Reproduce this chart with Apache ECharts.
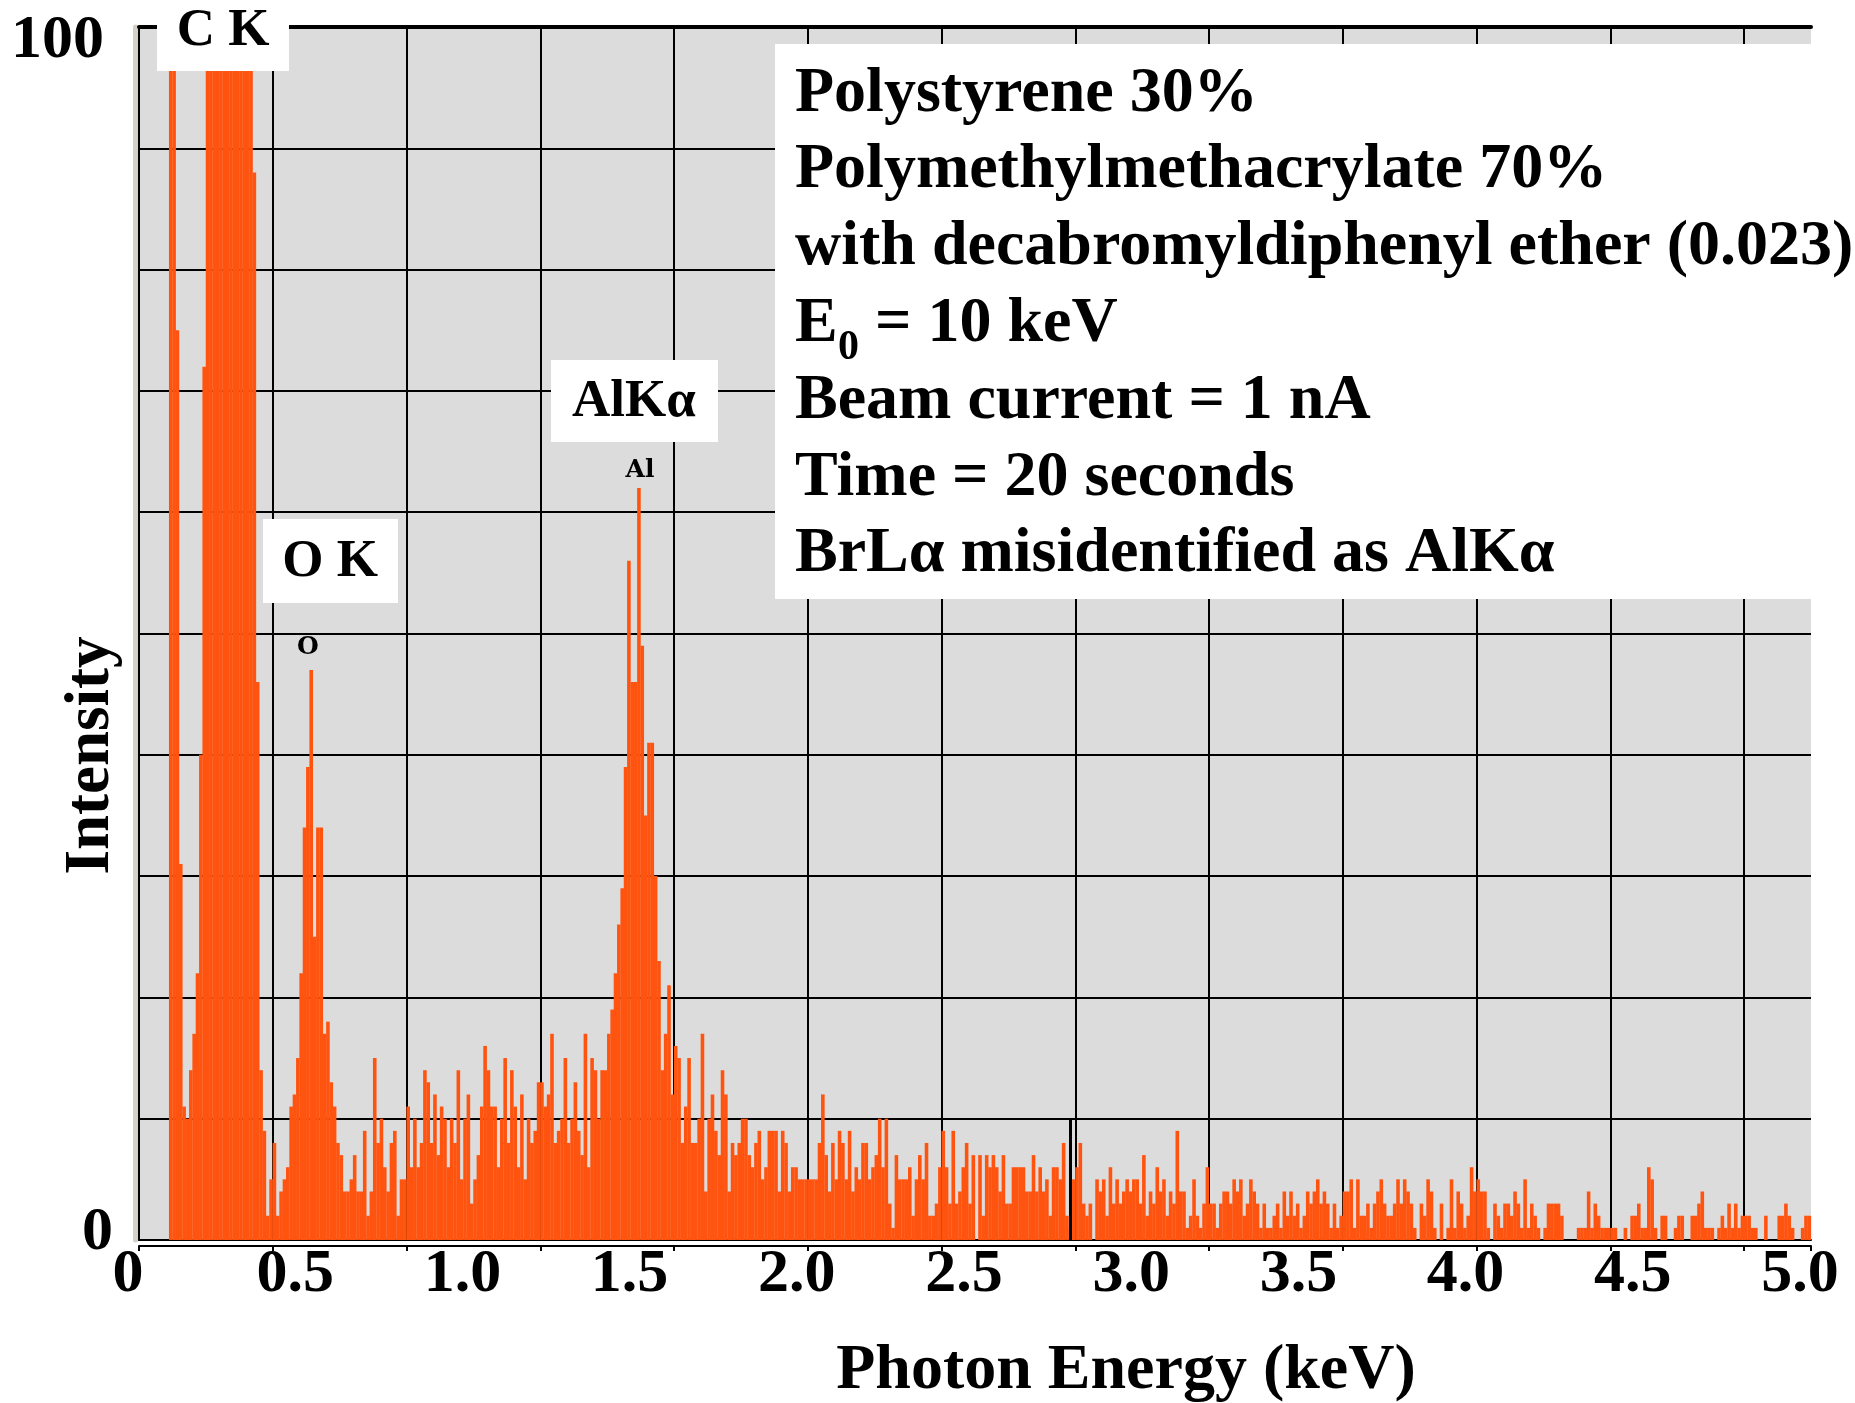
<!DOCTYPE html>
<html>
<head>
<meta charset="utf-8">
<script src="https://cdn.jsdelivr.net/npm/echarts@6.0.0/dist/echarts.min.js"></script>
<style>
html,body{margin:0;padding:0;background:#ffffff;}
#chart{width:1855px;height:1403px;}
</style>
</head>
<body>
<div id="chart"></div>
<script>
// ---------- DATA ----------
// EDS spectrum: counts per 10 eV channel, channel 0 starts at 0 keV
const channelWidthKeV = 0.01;
const counts = [
  0,0,0,0,0,0,0,0,0,140,            // 0.00-0.09
  115,75,31,11,10,14,17,22,40,72,   // 0.10
  110,150,200,260,310,350,370,360,330,290, // 0.20 (C K, clipped)
  240,190,150,115,88,46,14,9,2,5,   // 0.30
  8,2,4,5,6,11,12,15,22,34,         // 0.40
  39,47,25,34,34,17,18,13,11,8,     // 0.50 (O K)
  7,4,4,5,7,4,4,9,2,4,              // 0.60
  15,8,10,6,4,8,9,2,5,5,            // 0.70
  11,6,10,6,8,14,13,8,12,7,         // 0.80
  11,10,6,10,8,14,5,10,12,3,        // 0.90
  5,7,11,16,14,11,11,6,10,15,       // 1.00
  8,14,11,6,12,5,10,8,9,13,         // 1.10
  13,11,12,17,8,9,10,15,8,10,       // 1.20
  13,9,7,17,6,15,14,10,14,14,       // 1.30
  17,19,22,26,29,39,56,46,46,62,    // 1.40 (Al / Br L)
  49,35,41,41,30,23,14,17,21,12,    // 1.50
  16,15,8,11,15,8,8,10,17,4,        // 1.60
  10,12,9,7,14,12,4,8,7,8,          // 1.70
  10,10,7,6,8,9,5,6,9,9,            // 1.80
  9,4,9,8,4,6,6,5,5,5,              // 1.90
  5,5,5,8,12,7,4,8,5,9,             // 2.00
  8,5,9,4,6,5,8,8,5,6,              // 2.10
  7,10,6,10,3,1,7,5,5,5,            // 2.20
  6,2,5,7,5,8,2,2,3,6,              // 2.30
  9,6,3,9,3,4,6,8,3,7,              // 2.40
  0,7,2,7,6,7,6,4,7,3,              // 2.50
  3,6,6,6,6,4,4,7,4,6,              // 2.60
  4,5,2,6,6,5,8,2,1,5,              // 2.70
  6,8,3,2,3,0,5,4,5,2,              // 2.80
  6,3,5,3,4,5,4,5,5,3,              // 2.90
  7,2,4,3,6,4,5,2,4,3,              // 3.00
  9,4,4,1,2,5,2,1,3,6,              // 3.10
  3,3,1,3,4,4,3,5,4,5,              // 3.20
  2,3,5,4,3,1,3,1,1,2,              // 3.30
  3,1,4,2,4,2,3,1,2,4,              // 3.40
  3,4,5,3,4,3,1,3,1,2,              // 3.50
  4,4,5,1,5,2,2,3,1,3,              // 3.60
  4,5,3,2,2,3,5,3,5,4,              // 3.70
  3,1,0,3,2,5,4,1,0,3,              // 3.80
  0,1,5,1,4,3,1,2,6,4,              // 3.90
  5,4,4,1,0,3,2,1,3,3,              // 4.00
  2,4,3,1,5,1,3,2,1,0,              // 4.10
  1,3,3,3,3,2,0,0,0,0,              // 4.20
  1,1,1,4,1,3,2,1,1,1,              // 4.30
  1,1,0,0,1,0,2,2,3,1,              // 4.40
  1,6,5,1,0,2,2,0,0,1,              // 4.50
  2,2,0,0,2,2,3,4,1,1,              // 4.60
  1,0,1,2,1,3,1,3,1,2,              // 4.70
  2,2,1,1,0,0,2,0,0,0,              // 4.80
  2,2,3,2,1,0,0,1,2,2               // 4.90
];

const xMin = 0, xMax = 5;
const xGridStep = 0.4;           // instrument grid lines
const xTickValues = [0, 0.5, 1.0, 1.5, 2.0, 2.5, 3.0, 3.5, 4.0, 4.5, 5.0];
const xTickLabels = ['0', '0.5', '1.0', '1.5', '2.0', '2.5', '3.0', '3.5', '4.0', '4.5', '5.0'];
const yMin = 0, yMax = 100, yGridStep = 10;
const yTickValues = [0, 100];
const yTickLabels = ['0', '100'];

const markerEnergy = 2.784;      // black KLM-style marker line
const markerHeight = 10;

const xTitle = 'Photon Energy (keV)';
const yTitle = 'Intensity';
const peakBoxLabels = ['C K', 'O K', 'AlKα'];
const peakMarkerLabels = ['O', 'Al'];
const infoLines = [
  'Polystyrene 30%',
  'Polymethylmethacrylate 70%',
  'with decabromyldiphenyl ether (0.023)',
  ['E', '0', ' = 10 keV'],
  'Beam current = 1 nA',
  'Time = 20 seconds',
  'BrLα misidentified as AlKα'
];

// ---------- CHART ----------
const SERIF = '"Liberation Serif", "Times New Roman", serif';
const barData = counts.map((c, i) => [(i + 0.5) * channelWidthKeV, c]);

function textEl(text, x, y, font, align) {
  return {
    type: 'text', z: 100,
    style: {
      text: text, x: x, y: y,
      font: font,
      fill: '#000',
      align: align, verticalAlign: 'middle',
      textAlign: align, textVerticalAlign: 'middle'
    }
  };
}
const bigFont = s => 'bold ' + s + 'px ' + SERIF;

const graphics = [];
// peak label boxes
const boxes = [
  {r: [157, 0, 132, 71], t: [223, 31]},
  {r: [263, 519, 135, 84], t: [330, 562]},
  {r: [551, 360, 167, 82], t: [634, 402]}
];
boxes.forEach((b, i) => {
  graphics.push({type: 'rect', z: 99, shape: {x: b.r[0], y: b.r[1], width: b.r[2], height: b.r[3]}, style: {fill: '#ffffff'}});
  graphics.push(textEl(peakBoxLabels[i], b.t[0], b.t[1], bigFont(53), 'center'));
});
// instrument peak markers
const smallFont = 'bold 25px "DejaVu Serif", serif';
graphics.push(textEl(peakMarkerLabels[0], 308, 647, smallFont, 'center'));
graphics.push(textEl(peakMarkerLabels[1], 640, 470, smallFont, 'center'));

// info box
graphics.push({type: 'rect', z: 99, shape: {x: 775, y: 44, width: 1080, height: 555}, style: {fill: '#ffffff'}});
const lineY0 = 94, lineStep = 76.8, textX = 795;
infoLines.forEach((ln, i) => {
  const y = lineY0 + i * lineStep;
  if (Array.isArray(ln)) {
    graphics.push(textEl(ln[0], textX, y, bigFont(64), 'left'));
    graphics.push(textEl(ln[1], textX + 43, y + 24, bigFont(42), 'left'));
    graphics.push(textEl(ln[2], textX + 64, y, bigFont(64), 'left'));
  } else {
    graphics.push(textEl(ln, textX, y, bigFont(64), 'left'));
  }
});

const chart = echarts.init(document.getElementById('chart'), null, {renderer: 'canvas'});
chart.setOption({
  backgroundColor: '#ffffff',
  animation: false,
  grid: {left: 139, top: 27, width: 1672, height: 1213, show: true, backgroundColor: '#dcdcdc', borderWidth: 0,
         containLabel: false, outerBoundsMode: 'none'},
  xAxis: [
    { // data axis with instrument grid
      type: 'value', min: xMin, max: xMax, interval: xGridStep, position: 'bottom',
      axisLine: {show: true, onZero: false, lineStyle: {color: '#000', width: 2}},
      axisTick: {show: false}, axisLabel: {show: false},
      splitLine: {show: true, showMinLine: true, showMaxLine: false, lineStyle: {color: '#000', width: 2}}
    },
    { // instrument lower frame line with ticks
      type: 'value', min: xMin, max: xMax, interval: xGridStep, position: 'bottom', offset: 6,
      axisLine: {show: true, onZero: false, lineStyle: {color: '#000', width: 2}},
      axisTick: {show: true, length: 5, lineStyle: {color: '#000', width: 2}},
      axisLabel: {show: false}, splitLine: {show: false}
    },
    { // slide tick labels
      type: 'value', min: xMin, max: xMax, interval: 0.5, position: 'bottom',
      axisLine: {show: false}, axisTick: {show: false}, splitLine: {show: false},
      axisLabel: {
        show: true, margin: 4, padding: [0, 22, 0, 0],
        fontFamily: SERIF, fontWeight: 'bold', fontSize: 62, color: '#000',
        showMinLabel: true, showMaxLabel: true,
        formatter: v => { const k = xTickValues.findIndex(t => Math.abs(t - v) < 1e-6); return k >= 0 ? xTickLabels[k] : ''; }
      },
      name: xTitle, nameLocation: 'middle', nameGap: 99, nameMoveOverlap: false,
      nameTextStyle: {fontFamily: SERIF, fontWeight: 'bold', fontSize: 64, color: '#000', padding: [0, 0, 0, 302]}
    },
    { // thick top frame line
      type: 'value', min: xMin, max: xMax, position: 'top',
      axisLine: {show: true, onZero: false, lineStyle: {color: '#000', width: 4}},
      axisTick: {show: false}, axisLabel: {show: false}, splitLine: {show: false}
    }
  ],
  yAxis: [
    {
      type: 'value', min: yMin, max: yMax, interval: yGridStep, position: 'left',
      axisLine: {show: true, onZero: false, lineStyle: {color: '#000', width: 2}},
      axisTick: {show: false},
      splitLine: {show: true, lineStyle: {color: '#000', width: 2}},
      axisLabel: {
        show: true, margin: 26, fontFamily: SERIF, fontWeight: 'bold', fontSize: 62, color: '#000',
        formatter: v => {
          const k = yTickValues.indexOf(v);
          if (k < 0) return '';
          return (v === yMax ? '{hi|' : '{lo|') + yTickLabels[k] + '}';
        },
        rich: {
          hi: {fontFamily: SERIF, fontWeight: 'bold', fontSize: 62, color: '#000', padding: [28, 9, 0, 0]},
          lo: {fontFamily: SERIF, fontWeight: 'bold', fontSize: 62, color: '#000', padding: [0, 0, 14, 0]}
        }
      },
      name: yTitle, nameLocation: 'middle', nameGap: 16, nameRotate: 90, nameMoveOverlap: false,
      nameTextStyle: {fontFamily: SERIF, fontWeight: 'bold', fontSize: 63, color: '#000', padding: [0, 244, 0, 0]}
    },
    { // beige 3D frame edge
      type: 'value', min: yMin, max: yMax, position: 'left', offset: 4,
      axisLine: {show: true, onZero: false, lineStyle: {color: '#d4d0c8', width: 5}},
      axisTick: {show: false}, axisLabel: {show: false}, splitLine: {show: false}
    }
  ],
  series: [{
    type: 'bar', xAxisIndex: 0, yAxisIndex: 0,
    data: barData, barWidth: 3.6, clip: true,
    itemStyle: {color: '#ff5410'},
    emphasis: {disabled: true},
    markLine: {
      silent: true, symbol: 'none', animation: false,
      lineStyle: {color: '#000', width: 3, type: 'solid'},
      label: {show: false},
      data: [[{coord: [markerEnergy, 0]}, {coord: [markerEnergy, markerHeight]}]]
    }
  }],
  graphic: {elements: graphics}
});
</script>
</body>
</html>
